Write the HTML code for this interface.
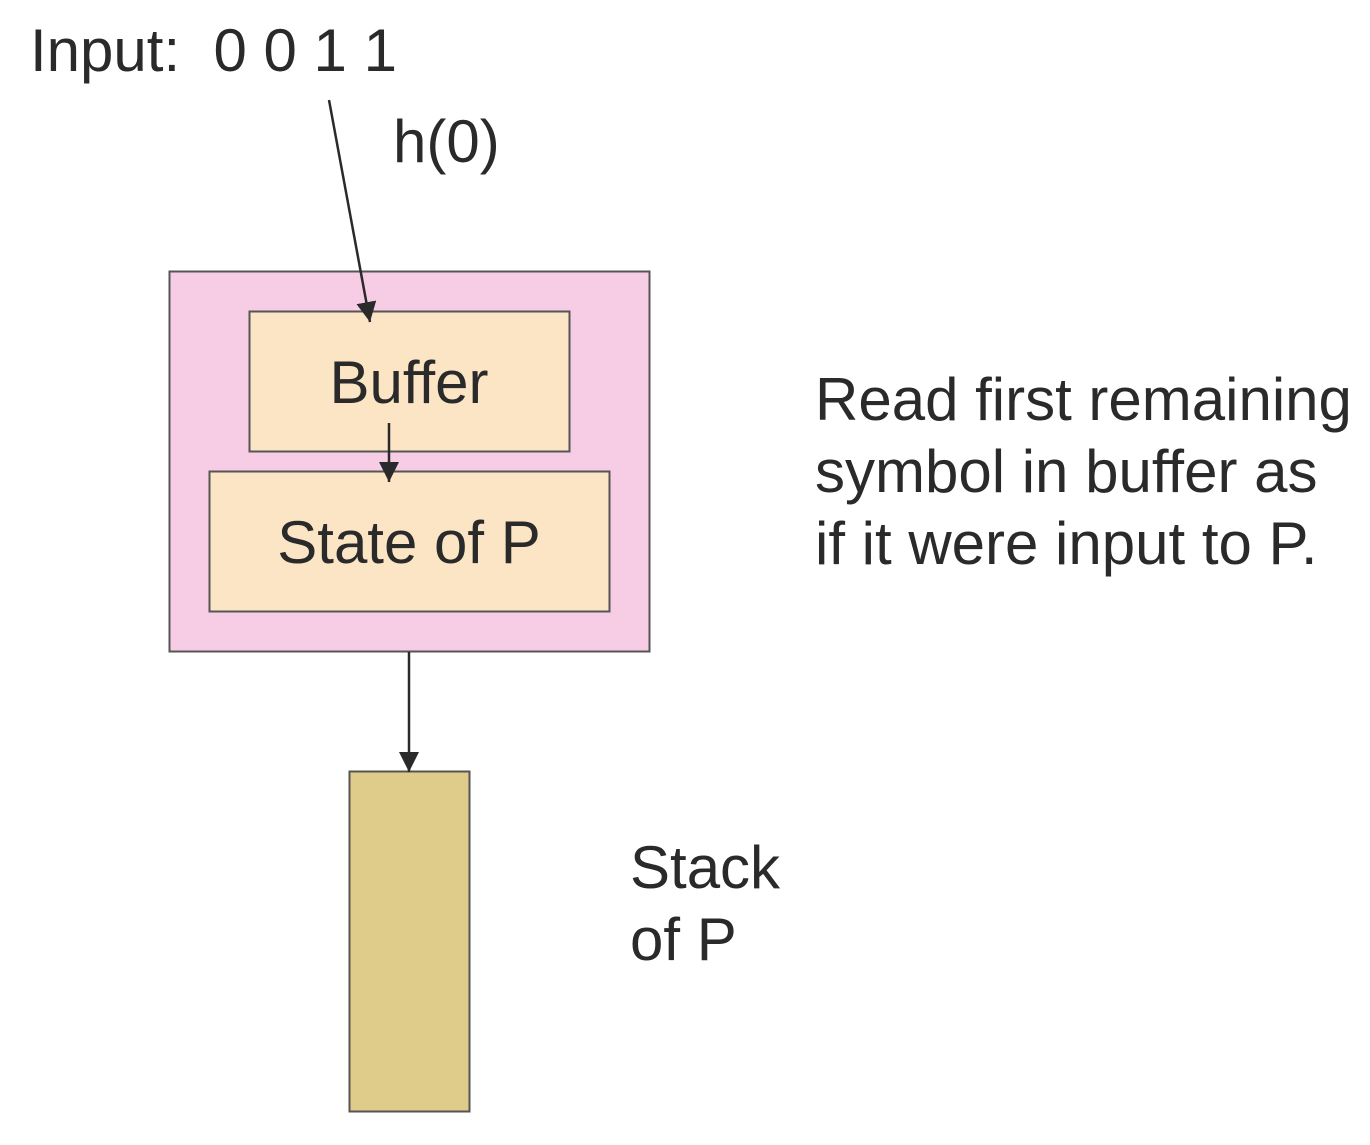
<!DOCTYPE html>
<html><head><style>
body{margin:0;width:1370px;height:1140px;background:#fff;overflow:hidden}
</style></head><body>
<svg width="1370" height="1140" xmlns="http://www.w3.org/2000/svg" font-family="Liberation Sans, Arial, sans-serif" fill="#2a2a2a">
<defs>
<marker id="b" viewBox="0 0 10 10" markerWidth="20" markerHeight="20" refX="10" refY="5" orient="auto" markerUnits="userSpaceOnUse"><path d="M0,0 L10,5 L0,10 z" fill="#2a2a2a"/></marker></defs>
<rect x="169.5" y="271.5" width="480" height="380" fill="#f7cde5" stroke="#555" stroke-width="2"/>
<rect x="249.5" y="311.5" width="320" height="140" fill="#fce5c5" stroke="#555" stroke-width="2"/>
<rect x="209.5" y="471.5" width="400" height="140" fill="#fce5c5" stroke="#555" stroke-width="2"/>
<rect x="349.5" y="771.5" width="120" height="340" fill="#e0cc8a" stroke="#555" stroke-width="2"/>
<line x1="329" y1="100" x2="370" y2="322" stroke="#2a2a2a" stroke-width="2.5" marker-end="url(#b)"/>
<line x1="389" y1="423" x2="389" y2="482" stroke="#2a2a2a" stroke-width="2.5" marker-end="url(#b)"/>
<line x1="409" y1="652" x2="409" y2="772" stroke="#2a2a2a" stroke-width="2.5" marker-end="url(#b)"/>
<g font-size="60">
<text x="30" y="71" xml:space="preserve">Input:  0 0 1 1</text>
<text x="393" y="162">h(0)</text>
<text x="409" y="403" text-anchor="middle">Buffer</text>
<text x="409" y="563" text-anchor="middle">State of P</text>
<text x="815" y="420">Read first remaining</text>
<text x="815" y="492">symbol in buffer as</text>
<text x="815" y="564">if it were input to P.</text>
<text x="630" y="888">Stack</text>
<text x="630" y="960">of P</text>
</g>
</svg>
</body></html>
